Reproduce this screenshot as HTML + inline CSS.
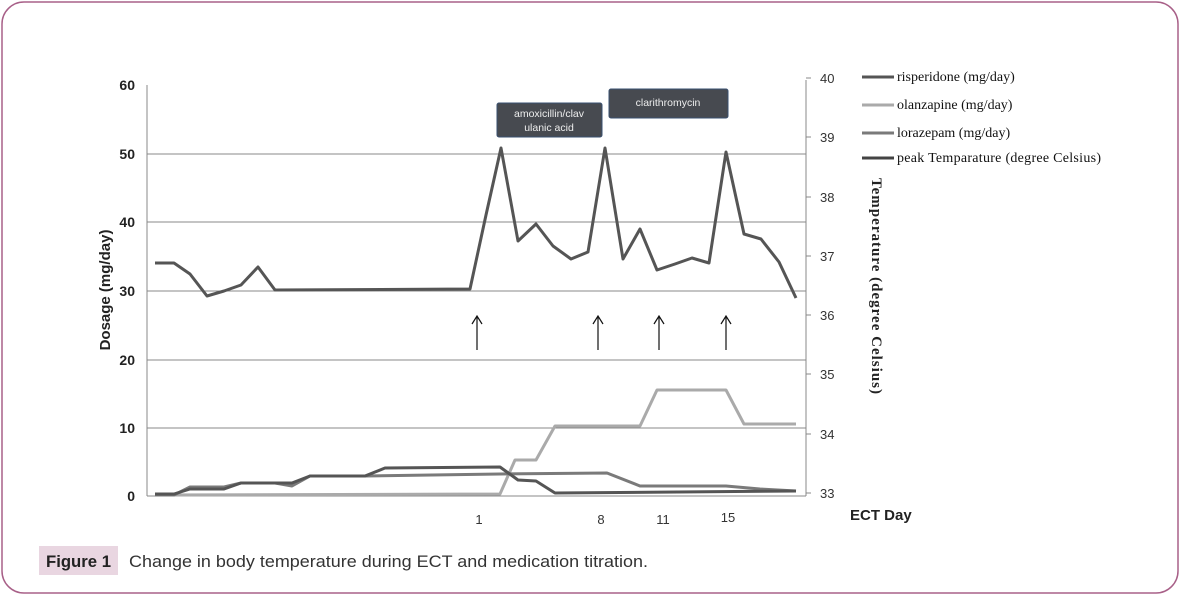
<!DOCTYPE html>
<html><head><meta charset="utf-8"><style>
body{margin:0;background:#fff;width:1182px;height:598px;overflow:hidden}
</style></head><body>
<svg width="1182" height="598" xmlns="http://www.w3.org/2000/svg" style="position:absolute;left:0;top:0">
<rect x="2" y="2" width="1176" height="591" rx="22" fill="none" stroke="#a86088" stroke-width="1.5"/>
<g stroke="#888" stroke-width="1">
<line x1="147" y1="154" x2="806" y2="154"/>
<line x1="147" y1="222" x2="806" y2="222"/>
<line x1="147" y1="291" x2="806" y2="291"/>
<line x1="147" y1="360" x2="806" y2="360"/>
<line x1="147" y1="428" x2="806" y2="428"/>
<line x1="147" y1="496" x2="806" y2="496"/>
<line x1="147" y1="85" x2="147" y2="496"/>
<line x1="806" y1="80" x2="806" y2="496"/>
<line x1="806" y1="78" x2="811" y2="78"/><line x1="806" y1="137" x2="811" y2="137"/><line x1="806" y1="197" x2="811" y2="197"/><line x1="806" y1="256" x2="811" y2="256"/><line x1="806" y1="315" x2="811" y2="315"/><line x1="806" y1="374" x2="811" y2="374"/><line x1="806" y1="434" x2="811" y2="434"/><line x1="806" y1="493" x2="811" y2="493"/>
</g>
<g font-family="Liberation Sans, sans-serif" font-weight="bold" font-size="14" text-anchor="end" fill="#222">
<text x="135" y="90">60</text><text x="135" y="159">50</text><text x="135" y="227">40</text><text x="135" y="296">30</text><text x="135" y="365">20</text><text x="135" y="433">10</text><text x="135" y="501">0</text>
</g>
<g font-family="Liberation Sans, sans-serif" font-size="13" fill="#333">
<text x="820" y="83">40</text><text x="820" y="142">39</text><text x="820" y="202">38</text><text x="820" y="261">37</text><text x="820" y="320">36</text><text x="820" y="379">35</text><text x="820" y="439">34</text><text x="820" y="498">33</text>
<text x="479" y="524" text-anchor="middle">1</text><text x="601" y="524" text-anchor="middle">8</text><text x="663" y="524" text-anchor="middle">11</text><text x="728" y="522" text-anchor="middle">15</text>
</g>
<text x="850" y="520" font-family="Liberation Sans, sans-serif" font-weight="bold" font-size="15" fill="#222">ECT Day</text>
<text transform="translate(110,290) rotate(-90)" text-anchor="middle" font-family="Liberation Sans, sans-serif" font-weight="bold" font-size="15" fill="#222">Dosage (mg/day)</text>
<text transform="translate(872,178) rotate(90)" font-family="Liberation Serif, serif" font-weight="bold" font-size="15" fill="#222" textLength="216" lengthAdjust="spacing">Temperature (degree Celsius)</text>
<g fill="none" stroke-linejoin="round">
<polyline stroke="#aaa" stroke-width="3" points="155,495 500,494 515,460 536,460 555,426 640,426 657,390 726,390 744,424 796,424"/>
<polyline stroke="#7a7a7a" stroke-width="3" points="155,495 174,495 190,487 224,487 241,483 275,483 292,486 310,476 365,476 500,474 607,473 640,486 726,486 760,489 796,491"/>
<polyline stroke="#555" stroke-width="3" points="155,494 174,494 190,489 224,489 241,483 292,483 310,476 365,476 385,468 500,467 518,480 536,481 555,493 796,491"/>
<polyline stroke="#555" stroke-width="3" points="155,263 174,263 190,274 207,296 224,291 241,285 258,267 275,290 470,289 486,215 501,148 518,241 536,224 553,246 571,259 588,252 605,148 623,259 640,229 657,270 675,264 692,258 709,263 726,152 744,234 761,239 779,262 796,298"/>
</g>
<g stroke="#111" stroke-width="1.2" fill="none">
<path d="M477 350V316M472 324L477 316L482 324"/>
<path d="M598 350V316M593 324L598 316L603 324"/>
<path d="M659 350V316M654 324L659 316L664 324"/>
<path d="M726 350V316M721 324L726 316L731 324"/>
</g>
<rect x="497" y="103" width="105" height="34" rx="2" fill="#474a50" stroke="#3a5070"/>
<rect x="609" y="89" width="119" height="29" rx="2" fill="#474a50" stroke="#3a5070"/>
<g font-family="Liberation Sans, sans-serif" font-size="10.5" fill="#eee" text-anchor="middle">
<text x="549" y="117">amoxicillin/clav</text><text x="549" y="131">ulanic acid</text>
<text x="668" y="106">clarithromycin</text>
</g>
<g stroke-width="3">
<line x1="862" y1="77" x2="894" y2="77" stroke="#555"/>
<line x1="862" y1="105" x2="894" y2="105" stroke="#aaa"/>
<line x1="862" y1="133" x2="894" y2="133" stroke="#7a7a7a"/>
<line x1="862" y1="158" x2="894" y2="158" stroke="#444"/>
</g>
<g font-family="Liberation Serif, serif" font-size="14" fill="#111">
<text x="897" y="81">risperidone (mg/day)</text>
<text x="897" y="109">olanzapine (mg/day)</text>
<text x="897" y="137">lorazepam (mg/day)</text>
<text x="897" y="162" textLength="204" lengthAdjust="spacing">peak Temparature (degree Celsius)</text>
</g>
<rect x="39" y="546" width="79" height="29" fill="#e9d6e1"/>
<text x="46" y="567" font-family="Liberation Sans, sans-serif" font-weight="bold" font-size="17" fill="#222" textLength="65" lengthAdjust="spacingAndGlyphs">Figure 1</text>
<text x="129" y="567" font-family="Liberation Sans, sans-serif" font-size="17" fill="#333" textLength="519" lengthAdjust="spacingAndGlyphs">Change in body temperature during ECT and medication titration.</text>
</svg>
</body></html>
